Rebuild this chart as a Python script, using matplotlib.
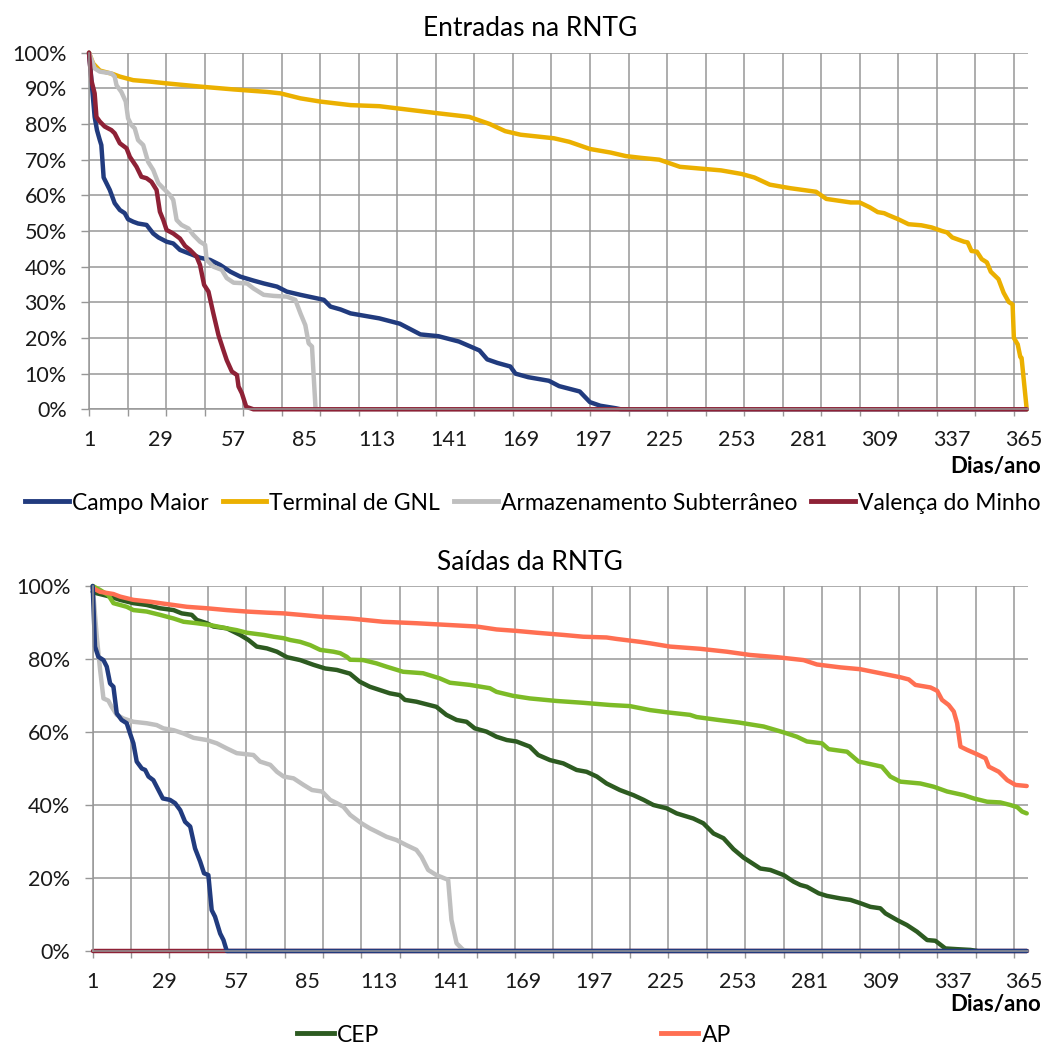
import matplotlib
matplotlib.use("Agg")
import matplotlib.pyplot as plt
from matplotlib.lines import Line2D
from matplotlib.ticker import FixedLocator, FuncFormatter

plt.rcParams['font.family'] = ['Lato', 'DejaVu Sans']

# ---------------- data: Entradas na RNTG ----------------
campo_days = [1, 3.2, 4.1, 5.2, 5.8, 6.7, 7.8, 9.1, 11, 13, 14.9, 16.2, 18.2, 20.1, 23.4, 26, 28, 31.2,
              33.8, 36.4, 40.3, 44.2, 48.1, 52, 56, 59.9, 65, 69, 74.2, 78, 83.3, 89.8, 92.4, 95, 98.9,
              102.8, 114, 122, 130, 137, 145, 153, 156, 160, 165, 167, 172, 180, 184, 192, 196, 200,
              206, 208, 366]
campo_vals = [100, 82, 78.3, 75.5, 74.1, 65, 63.4, 61.5, 57.8, 55.9, 55, 53.3, 52.6, 52.1, 51.7, 49.3,
              48.2, 47, 46.5, 44.7, 43.6, 42.5, 41.9, 40.5, 38.6, 37.2, 36.1, 35.3, 34.4, 33, 32.1, 31.1,
              30.7, 28.8, 28, 26.9, 25.5, 24, 21, 20.5, 19, 16.5, 14, 13, 12, 10, 9, 8, 6.5, 5, 2, 1,
              0.3, 0, 0]

gnl_days = [1, 2.6, 5.2, 10.4, 13, 18.2, 24.7, 31.2, 44.2, 57.3, 70.3, 75.5, 83.3, 91, 102.8, 114, 137,
            149, 157, 163, 169, 182, 188, 196, 204, 210, 216, 223, 231, 239, 247, 255, 260, 266, 274,
            284, 288, 297.5, 301, 305, 308, 310.5, 312, 316, 320, 325, 329, 333, 335, 337, 341.6, 343,
            344.5, 346.6, 348.5, 350.5, 352, 355, 357, 359, 360.5, 361, 362.5, 363.5, 364, 366]
gnl_vals = [100, 97, 95, 94, 93.3, 92.3, 91.9, 91.4, 90.5, 89.7, 89, 88.6, 87.2, 86.3, 85.3, 85, 83,
            82, 80, 78, 77, 76, 75, 73, 72, 71, 70.5, 70, 68, 67.5, 67, 66, 65, 63, 62, 61, 59, 58,
            58, 56.6, 55.3, 55, 54.5, 53.3, 51.9, 51.6, 51, 50, 49.6, 48.2, 47, 46.8, 44.4, 44.2,
            42.1, 41.2, 38.6, 36.5, 32.7, 30.1, 29.4, 20, 18.2, 14.7, 14.4, 0]

arm_days = [1, 3.2, 5.2, 9.7, 11, 11.7, 13.6, 15.3, 16.2, 17.5, 18.8, 20.1, 22.1, 24, 26, 28, 30.6,
            32.5, 33.8, 35.1, 37, 39.7, 41.6, 44.2, 46.2, 46.8, 49.4, 52.7, 54.6, 57.3, 62.5, 65, 69,
            72.9, 78, 81.3, 83.3, 85.2, 86.5, 87.8, 89.2, 366]
arm_vals = [100, 95.6, 94.7, 94.2, 93.3, 90.9, 89, 86.3, 81.6, 79.7, 78.8, 75.5, 74.1, 69.4, 67.1,
            63.4, 61.5, 60.1, 58.7, 53.1, 51.7, 50.7, 48.9, 47, 46.1, 41.9, 40, 39.1, 36.8, 35.5,
            35.3, 33.9, 32.1, 31.8, 31.6, 30.7, 26.9, 23.6, 18.5, 17.6, 0, 0]

val_days = [1, 1.9, 3.2, 3.9, 5.2, 7.1, 9.7, 11, 13, 15.6, 16.9, 19.5, 21.4, 23.4, 25.3, 27.3, 28.6,
            29.9, 31.2, 33.8, 36.4, 38.4, 40.3, 42.9, 44.2, 45.8, 47.5, 49.4, 51.4, 53.3, 54.6, 56.6,
            58.6, 59.2, 60.5, 62.2, 65, 366]
val_vals = [100, 92.3, 88.6, 82, 80.7, 79.3, 78.3, 77.4, 74.6, 73.2, 70.8, 68, 65.2, 64.8, 63.8, 61.5,
            55.4, 53.1, 50.3, 49.3, 47.9, 45.8, 44.7, 42.8, 40.5, 34.9, 33, 26.9, 20.8, 16.6, 13.8,
            10.6, 9.6, 6.4, 4.5, 0.7, 0, 0]

# ---------------- data: Saídas da RNTG ----------------
s_campo_days = [1, 1.9, 3.2, 5.2, 6.5, 7.8, 9.1, 10.4, 12.3, 14.3, 15.6, 16.9, 18.2, 20.2, 21.5, 22.8,
                24.7, 26.7, 28.4, 31.2, 33.2, 35.2, 37.1, 39.1, 41, 43, 44.5, 46.2, 47.5, 48.8, 50.8,
                52.1, 53.4, 366]
s_campo_vals = [100, 83.4, 80.6, 79.7, 77.9, 73.3, 72.4, 65.1, 63.3, 62.4, 59.6, 56.9, 51.9, 50, 49.6,
                47.8, 46.8, 44.1, 41.8, 41.4, 40.5, 38.6, 35.4, 34.1, 28.1, 24.5, 21.3, 20.8, 11.2, 9.4,
                4.8, 3, 0, 0]

s_arm_days = [1, 2.6, 3.9, 5.2, 7.1, 8.4, 10.4, 13, 16.9, 22.1, 26, 28.6, 32.6, 36.5, 40.4, 45.6, 49.5,
              53.4, 57.3, 63.8, 66.4, 70.4, 73, 75.6, 79.5, 83.4, 86.7, 90.6, 93.8, 96.4, 99, 101.6,
              106, 109.3, 111.9, 115.8, 119.7, 123.6, 127.5, 129.5, 132.1, 135.3, 139.9, 141.2, 143.2,
              145.8, 148.4]
s_arm_vals = [100, 86.1, 77, 69.2, 68.6, 66.9, 64.7, 63.7, 62.8, 62.4, 61.9, 61, 60.5, 59.6, 58.4, 57.8,
              56.9, 55.5, 54.2, 53.7, 51.9, 51, 49.1, 47.8, 47.3, 45.5, 44.1, 43.7, 41.4, 40.5, 39.5,
              37.3, 35, 33.6, 32.7, 31.3, 30.4, 29, 27.7, 25.8, 22.2, 20.8, 19.5, 8.5, 2.1, 0.3, 0]

cep_days = [1, 2.6, 7.8, 11.7, 16.9, 22.1, 27.3, 32.6, 35.8, 39.7, 41.7, 45.6, 48.2, 53.4, 58.6, 61.9,
            65.1, 69.1, 73, 76.9, 82.1, 87.3, 91.9, 96.4, 101.5, 105.3, 109.3, 113.2, 117.1, 121, 123,
            127.5, 135.3, 139.2, 143.2, 147.1, 150.3, 154.9, 158.8, 162.8, 166.6, 171.8, 175.1, 179.7,
            184.9, 190.1, 194, 198, 201.8, 207, 212.3, 216.3, 220.1, 225.3, 229.2, 235.7, 239.6,
            243.6, 247.5, 251.4, 255.3, 261.9, 265.8, 271, 274.9, 277.5, 280.1, 284.7, 287.9, 293.2,
            297.1, 301, 304.9, 308.8, 310.8, 315.3, 319.2, 323.1, 327.1, 330.3, 334.2, 338.8, 344,
            346.6]
cep_vals = [98.4, 98, 97.1, 96.2, 95.3, 94.8, 93.9, 93.4, 92.5, 92.1, 90.7, 89.8, 88.9, 88.4, 86.6, 85.2,
            83.4, 82.9, 82, 80.5, 79.7, 78.4, 77.4, 77, 76, 73.8, 72.4, 71.5, 70.6, 70.1, 68.8, 68.3,
            66.9, 64.7, 63.3, 62.8, 61, 60.1, 58.7, 57.8, 57.4, 56, 53.7, 52.3, 51.4, 49.6, 49.1, 47.8,
            45.9, 44.1, 42.7, 41.4, 40, 39.1, 37.7, 36.3, 35, 32.2, 30.9, 27.9, 25.6, 22.6, 22.2, 20.8,
            19, 18.1, 17.6, 15.8, 15.1, 14.4, 14, 13.1, 12.1, 11.7, 10.3, 8.5, 7.1, 5.3, 3, 2.8, 0.7,
            0.5, 0.3, 0]

lgreen_days = [1, 3.9, 7.1, 9.1, 11.7, 14.3, 16.9, 22.1, 27.3, 32.6, 36.5, 41.7, 46.9, 53.4, 57.3, 61.2,
               67.8, 71.7, 75.6, 78.2, 82.1, 86, 89.9, 95.1, 97.7, 100.3, 101.6, 106.7, 111.9, 115.8,
               122.3, 130.1, 136.6, 140.6, 148.4, 156.2, 158.8, 165.3, 171.8, 182.3, 192.7, 203.1,
               210.9, 218.8, 226.6, 234.4, 237, 245.5, 253.5, 263.2, 271, 276.2, 280.1, 286, 288.6,
               295.8, 300.3, 306.2, 309.4, 312.7, 316.6, 324.4, 329.7, 334.9, 341.4, 345.3, 350.5,
               355.7, 359.6, 362.3, 364.2, 366]
lgreen_vals = [100, 98.9, 97.5, 95.3, 94.8, 94.3, 93.4, 93, 92.1, 91.1, 90.2, 89.8, 89.3, 88.4, 87.9,
               87.2, 86.6, 86.1, 85.7, 85.2, 84.7, 83.8, 82.5, 82, 81.6, 80.6, 79.8, 79.7, 78.8, 77.9,
               76.5, 76.1, 74.7, 73.5, 72.9, 72, 71, 69.9, 69.2, 68.5, 68, 67.4, 67.1, 66, 65.3, 64.7,
               64.1, 63.3, 62.6, 61.5, 59.9, 58.7, 57.4, 56.9, 55.3, 54.6, 51.9, 51, 50.5, 47.8, 46.4,
               45.9, 45, 43.7, 42.7, 41.8, 40.9, 40.7, 40, 39.4, 38.2, 37.7]

ap_days = [1, 3.9, 9.1, 11.7, 16.9, 23.4, 27.3, 32.6, 37.8, 45.6, 53.4, 61.2, 69.1, 75.6, 82.1, 89.9,
           101.6, 114.5, 127.5, 140.6, 151, 158.8, 166.6, 174.4, 184.9, 192.7, 201.8, 205.7, 214.9,
           218.8, 226.6, 238.3, 248.8, 258, 268.4, 278.8, 284, 293.2, 301, 308.8, 316.6, 319.9, 322.5,
           328.4, 331, 332.9, 335.5, 337.5, 338.8, 340.1, 342.7, 346.6, 349.9, 351.2, 355.1, 358.4,
           361.6, 366]
ap_vals = [99.4, 98.4, 97.8, 97.1, 96.2, 95.7, 95.3, 94.8, 94.3, 93.9, 93.4, 93, 92.7, 92.5, 92.1, 91.6,
           91.1, 90.2, 89.8, 89.3, 88.9, 88.1, 87.7, 87.2, 86.6, 86.1, 85.9, 85.5, 84.7, 84.3, 83.4,
           82.8, 82, 81.1, 80.5, 79.7, 78.5, 77.7, 77.2, 76.1, 75, 74.4, 72.9, 72.2, 71.3, 68.8, 67.4,
           65.6, 62.4, 56, 55.1, 53.9, 52.8, 50.5, 49.1, 46.8, 45.5, 45.2]

s_val_days = [1, 366]
s_val_vals = [0, 0]

grid_days = list(range(1, 367, 15))
label_days = list(range(1, 366, 28))

C_BLUE = '#213B7E'
C_YEL = '#EBB000'
C_GRAY = '#BFBFBF'
C_RED = '#8E2136'
C_DGREEN = '#2D5B21'
C_LGREEN = '#7DBB27'
C_SALMON = '#FF6F52'
GRID = '#979797'
LW = 3.2
FS = 15.5

fig = plt.figure(figsize=(10.45, 10.46), dpi=100)
ax1 = fig.add_axes([89 / 1045, 1 - 409.3 / 1046, (1028 - 89) / 1045, (409.3 - 52.7) / 1046])
ax2 = fig.add_axes([92.7 / 1045, 1 - 951 / 1046, (1028 - 92.7) / 1045, (951 - 586) / 1046])


def style(ax, ystep):
    ax.set_xlim(1, 366.5)
    ax.set_ylim(0, 100)
    ax.xaxis.remove_overlapping_locs = False
    ax.xaxis.set_major_locator(FixedLocator(grid_days))
    ax.xaxis.set_minor_locator(FixedLocator(label_days))
    ax.xaxis.set_major_formatter(FuncFormatter(lambda v, p: ''))
    ax.xaxis.set_minor_formatter(FuncFormatter(lambda v, p: f'{int(round(v))}'))
    ax.tick_params(axis='x', which='major', direction='out', length=5, width=1, color=GRID)
    ax.tick_params(axis='x', which='minor', length=0, pad=15, labelsize=FS, labelcolor='#1a1a1a')
    ax.set_yticks(range(0, 101, ystep))
    ax.yaxis.set_major_formatter(FuncFormatter(lambda v, p: f'{int(v)}%'))
    ax.tick_params(axis='y', direction='out', length=6, width=1, color=GRID, pad=10,
                   labelsize=FS, labelcolor='#1a1a1a')
    ax.grid(True, which='major', color=GRID, linewidth=1.1)
    ax.set_axisbelow(True)
    for s in ['top', 'right']:
        ax.spines[s].set_visible(False)
    for s in ['left', 'bottom']:
        ax.spines[s].set_color(GRID)
        ax.spines[s].set_linewidth(1.1)


style(ax1, 10)
style(ax2, 20)

kw = dict(lw=LW, solid_joinstyle='round', solid_capstyle='round', clip_on=False)
ax1.plot(campo_days, campo_vals, color=C_BLUE, **kw)
ax1.plot(gnl_days, gnl_vals, color=C_YEL, **kw)
ax1.plot(arm_days, arm_vals, color=C_GRAY, **kw)
ax1.plot(val_days, val_vals, color=C_RED, **kw)

ax2.plot(s_val_days, s_val_vals, color=C_RED, **kw)
ax2.plot(s_arm_days, s_arm_vals, color=C_GRAY, **kw)
ax2.plot(cep_days, cep_vals, color=C_DGREEN, **kw)
ax2.plot(lgreen_days, lgreen_vals, color=C_LGREEN, **kw)
ax2.plot(ap_days, ap_vals, color=C_SALMON, **kw)
ax2.plot(s_campo_days, s_campo_vals, color=C_BLUE, **kw)

fig.text(530 / 1045, 1 - 28 / 1046, 'Entradas na RNTG', ha='center', va='center', fontsize=19)
fig.text(530 / 1045, 1 - 562 / 1046, 'Saídas da RNTG', ha='center', va='center', fontsize=19)
fig.text(1041 / 1045, 1 - 467 / 1046, 'Dias/ano', ha='right', va='center', fontsize=16,
         fontweight='bold')
fig.text(1041 / 1045, 1 - 1005 / 1046, 'Dias/ano', ha='right', va='center', fontsize=16,
         fontweight='bold')

top_names = ['Campo Maior', 'Terminal de GNL', 'Armazenamento Subterrâneo', 'Valença do Minho']
top_cols = [C_BLUE, C_YEL, C_GRAY, C_RED]
h1 = [Line2D([], [], color=c, lw=LW + 0.3) for c in top_cols]
fig.legend(h1, top_names, loc='center', bbox_to_anchor=(533 / 1045, 1 - 503 / 1046), ncol=4,
           frameon=False, fontsize=16.5, handlelength=1.9, handletextpad=0.15, columnspacing=0.6,
           borderaxespad=0, borderpad=0)

h2 = [Line2D([], [], color=c, lw=LW + 0.3) for c in [C_DGREEN, C_SALMON]]
fig.legend(h2, ['CEP', 'AP'], loc='center left', bbox_to_anchor=(297 / 1045, 1 - 1035 / 1046),
           ncol=2, frameon=False, fontsize=16.5, handlelength=1.6, handletextpad=0.15,
           columnspacing=12.3, borderaxespad=0, borderpad=0)

fig.savefig('out.png', dpi=100)
